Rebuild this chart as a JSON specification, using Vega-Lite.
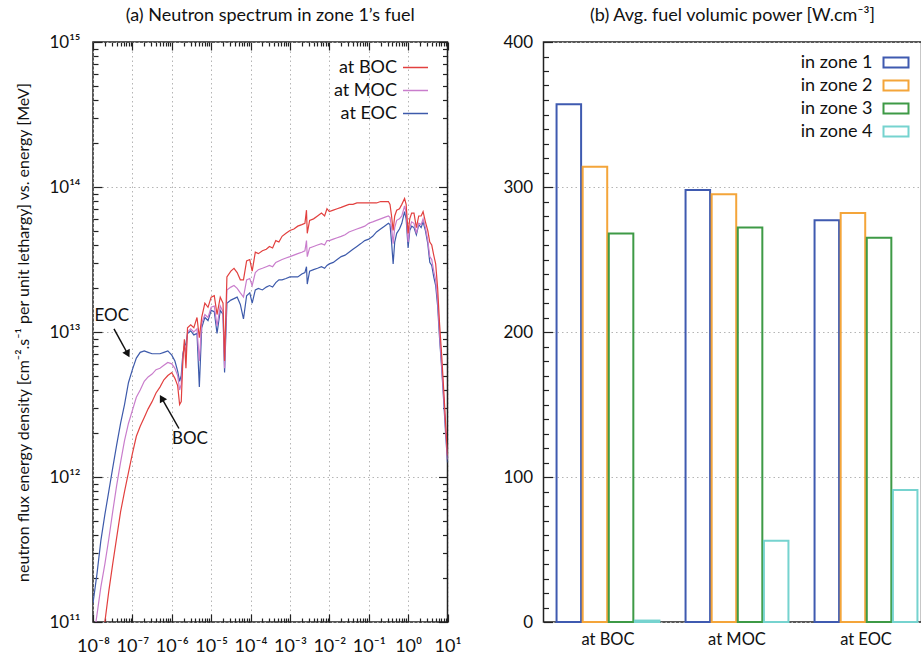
{
  "$schema": "https://vega.github.io/schema/vega-lite/v6.json",
  "padding": {"left": 15, "top": 6, "right": 0, "bottom": 0},
  "config": {
    "font": "Lato",
    "view": {"stroke": "#222222", "strokeWidth": 1.5},
    "axis": {"domain": false, "tickColor": "#222222", "tickWidth": 1.2, "labelColor": "#111111", "labelFontSize": 17, "labelFont": "Lato", "gridColor": "#b5b5b5", "gridDash": [1.5, 3], "gridWidth": 1, "titleFontWeight": "normal", "titleColor": "#111111"},
    "legend": {"labelFontSize": 18, "labelColor": "#111111", "labelFont": "Lato"},
    "title": {"fontSize": 18, "fontWeight": "normal", "color": "#111111", "font": "Lato"}
  },
  "resolve": {"scale": {"color": "independent"}, "legend": {"color": "independent"}},
  "hconcat": [
    {
      "width": 354.5,
      "height": 580,
      "title": {"text": "(a) Neutron spectrum in zone 1’s fuel", "offset": 8},
      "resolve": {"axis": {"x": "independent", "y": "independent"}},
      "layer": [
        {
          "data": {"values": [
            {"E":1e-8,"BOC":2.51e10,"MOC":7.24e10,"EOC":1.35e11},
            {"E":1.26e-8,"BOC":4.17e10,"MOC":1.12e11,"EOC":2.14e11},
            {"E":1.58e-8,"BOC":6.61e10,"MOC":1.74e11,"EOC":3.63e11},
            {"E":2.0e-8,"BOC":1.0e11,"MOC":2.51e11,"EOC":5.5e11},
            {"E":2.51e-8,"BOC":1.62e11,"MOC":3.72e11,"EOC":7.94e11},
            {"E":3.16e-8,"BOC":2.51e11,"MOC":5.75e11,"EOC":1.15e12},
            {"E":3.98e-8,"BOC":3.8e11,"MOC":8.71e11,"EOC":1.66e12},
            {"E":5.01e-8,"BOC":5.75e11,"MOC":1.26e12,"EOC":2.34e12},
            {"E":6.31e-8,"BOC":7.94e11,"MOC":1.78e12,"EOC":3.16e12},
            {"E":7.94e-8,"BOC":1.07e12,"MOC":2.34e12,"EOC":4.47e12},
            {"E":1.0e-7,"BOC":1.45e12,"MOC":2.88e12,"EOC":5.5e12},
            {"E":1.26e-7,"BOC":1.91e12,"MOC":3.55e12,"EOC":6.61e12},
            {"E":1.58e-7,"BOC":2.24e12,"MOC":3.98e12,"EOC":7.24e12},
            {"E":2.0e-7,"BOC":2.57e12,"MOC":4.57e12,"EOC":7.41e12},
            {"E":2.51e-7,"BOC":2.95e12,"MOC":4.9e12,"EOC":7.24e12},
            {"E":3.16e-7,"BOC":3.31e12,"MOC":5.13e12,"EOC":7.08e12},
            {"E":3.98e-7,"BOC":3.8e12,"MOC":5.5e12,"EOC":7.08e12},
            {"E":5.01e-7,"BOC":4.17e12,"MOC":5.62e12,"EOC":7.08e12},
            {"E":6.31e-7,"BOC":4.68e12,"MOC":5.89e12,"EOC":7.24e12},
            {"E":7.94e-7,"BOC":5.01e12,"MOC":6.17e12,"EOC":7.41e12},
            {"E":1.0e-6,"BOC":5.25e12,"MOC":6.03e12,"EOC":6.92e12},
            {"E":1.2e-6,"BOC":4.79e12,"MOC":5.62e12,"EOC":6.31e12},
            {"E":1.41e-6,"BOC":4.27e12,"MOC":5.01e12,"EOC":5.37e12},
            {"E":1.58e-6,"BOC":3.16e12,"MOC":3.98e12,"EOC":4.57e12},
            {"E":1.74e-6,"BOC":3.31e12,"MOC":4.37e12,"EOC":5.01e12},
            {"E":1.91e-6,"BOC":6.31e12,"MOC":6.61e12,"EOC":7.08e12},
            {"E":2.09e-6,"BOC":8.91e12,"MOC":8.32e12,"EOC":7.94e12},
            {"E":2.29e-6,"BOC":5.62e12,"MOC":7.08e12,"EOC":8.32e12},
            {"E":2.51e-6,"BOC":1.07e13,"MOC":1.0e13,"EOC":9.77e12},
            {"E":3.02e-6,"BOC":1.12e13,"MOC":1.05e13,"EOC":1.02e13},
            {"E":3.63e-6,"BOC":1.07e13,"MOC":1.0e13,"EOC":9.55e12},
            {"E":4.37e-6,"BOC":1.26e13,"MOC":1.05e13,"EOC":9.77e12},
            {"E":5.01e-6,"BOC":9.12e12,"MOC":6.31e12,"EOC":4.17e12},
            {"E":5.75e-6,"BOC":1.26e13,"MOC":1.15e13,"EOC":1.07e13},
            {"E":6.92e-6,"BOC":1.58e13,"MOC":1.32e13,"EOC":1.26e13},
            {"E":8.32e-6,"BOC":1.48e13,"MOC":1.26e13,"EOC":1.2e13},
            {"E":1.0e-5,"BOC":1.74e13,"MOC":1.48e13,"EOC":1.41e13},
            {"E":1.2e-5,"BOC":1.78e13,"MOC":1.51e13,"EOC":1.38e13},
            {"E":1.41e-5,"BOC":1.32e13,"MOC":1.1e13,"EOC":9.77e12},
            {"E":1.7e-5,"BOC":1.74e13,"MOC":1.51e13,"EOC":1.41e13},
            {"E":2.0e-5,"BOC":1.58e13,"MOC":1.38e13,"EOC":1.32e13},
            {"E":2.19e-5,"BOC":6.31e12,"MOC":5.62e12,"EOC":5.25e12},
            {"E":2.51e-5,"BOC":2.4e13,"MOC":1.95e13,"EOC":1.58e13},
            {"E":3.16e-5,"BOC":2.63e13,"MOC":2.04e13,"EOC":1.66e13},
            {"E":3.8e-5,"BOC":2.75e13,"MOC":2.09e13,"EOC":1.7e13},
            {"E":4.57e-5,"BOC":2.57e13,"MOC":2.0e13,"EOC":1.74e13},
            {"E":5.5e-5,"BOC":2.29e13,"MOC":1.86e13,"EOC":1.55e13},
            {"E":6.61e-5,"BOC":2.29e13,"MOC":1.74e13,"EOC":1.23e13},
            {"E":7.94e-5,"BOC":3.09e13,"MOC":2.29e13,"EOC":1.78e13},
            {"E":9.55e-5,"BOC":3.16e13,"MOC":2.34e13,"EOC":1.86e13},
            {"E":1.1e-4,"BOC":2.63e13,"MOC":2.09e13,"EOC":1.58e13},
            {"E":1.32e-4,"BOC":3.55e13,"MOC":2.57e13,"EOC":1.95e13},
            {"E":1.58e-4,"BOC":3.47e13,"MOC":2.69e13,"EOC":2.0e13},
            {"E":2.0e-4,"BOC":3.63e13,"MOC":2.75e13,"EOC":1.95e13},
            {"E":2.51e-4,"BOC":3.72e13,"MOC":2.82e13,"EOC":2.04e13},
            {"E":3.02e-4,"BOC":3.89e13,"MOC":2.88e13,"EOC":2.09e13},
            {"E":3.63e-4,"BOC":3.8e13,"MOC":2.82e13,"EOC":2.04e13},
            {"E":4.37e-4,"BOC":4.27e13,"MOC":3.02e13,"EOC":2.19e13},
            {"E":5.25e-4,"BOC":4.17e13,"MOC":3.09e13,"EOC":2.29e13},
            {"E":6.31e-4,"BOC":4.57e13,"MOC":3.16e13,"EOC":2.29e13},
            {"E":7.94e-4,"BOC":4.79e13,"MOC":3.24e13,"EOC":2.34e13},
            {"E":1.0e-3,"BOC":5.01e13,"MOC":3.31e13,"EOC":2.4e13},
            {"E":1.26e-3,"BOC":5.13e13,"MOC":3.39e13,"EOC":2.4e13},
            {"E":1.58e-3,"BOC":5.37e13,"MOC":3.47e13,"EOC":2.4e13},
            {"E":2.0e-3,"BOC":5.5e13,"MOC":3.55e13,"EOC":2.51e13},
            {"E":2.4e-3,"BOC":5.62e13,"MOC":3.63e13,"EOC":2.57e13},
            {"E":2.63e-3,"BOC":6.92e13,"MOC":4.27e13,"EOC":2.82e13},
            {"E":2.75e-3,"BOC":4.79e13,"MOC":3.31e13,"EOC":2.14e13},
            {"E":3.16e-3,"BOC":5.89e13,"MOC":3.8e13,"EOC":2.63e13},
            {"E":3.98e-3,"BOC":6.03e13,"MOC":3.89e13,"EOC":2.69e13},
            {"E":5.01e-3,"BOC":6.31e13,"MOC":3.98e13,"EOC":2.75e13},
            {"E":6.31e-3,"BOC":6.61e13,"MOC":4.07e13,"EOC":2.82e13},
            {"E":7.59e-3,"BOC":6.31e13,"MOC":3.98e13,"EOC":2.75e13},
            {"E":8.71e-3,"BOC":7.08e13,"MOC":4.27e13,"EOC":2.88e13},
            {"E":1.0e-2,"BOC":6.76e13,"MOC":4.27e13,"EOC":2.95e13},
            {"E":1.26e-2,"BOC":6.92e13,"MOC":4.37e13,"EOC":3.02e13},
            {"E":1.58e-2,"BOC":7.08e13,"MOC":4.47e13,"EOC":3.16e13},
            {"E":2.0e-2,"BOC":7.24e13,"MOC":4.57e13,"EOC":3.31e13},
            {"E":2.51e-2,"BOC":7.41e13,"MOC":4.68e13,"EOC":3.39e13},
            {"E":3.16e-2,"BOC":7.59e13,"MOC":4.9e13,"EOC":3.55e13},
            {"E":3.98e-2,"BOC":7.59e13,"MOC":5.01e13,"EOC":3.72e13},
            {"E":5.01e-2,"BOC":7.76e13,"MOC":5.13e13,"EOC":3.89e13},
            {"E":6.31e-2,"BOC":7.76e13,"MOC":5.25e13,"EOC":4.07e13},
            {"E":7.94e-2,"BOC":7.76e13,"MOC":5.37e13,"EOC":4.27e13},
            {"E":1.0e-1,"BOC":7.76e13,"MOC":5.62e13,"EOC":4.37e13},
            {"E":1.26e-1,"BOC":7.76e13,"MOC":5.75e13,"EOC":4.57e13},
            {"E":1.58e-1,"BOC":7.76e13,"MOC":5.89e13,"EOC":4.9e13},
            {"E":2.0e-1,"BOC":7.94e13,"MOC":6.03e13,"EOC":5.13e13},
            {"E":2.51e-1,"BOC":7.94e13,"MOC":6.17e13,"EOC":5.37e13},
            {"E":3.16e-1,"BOC":7.94e13,"MOC":6.31e13,"EOC":5.62e13},
            {"E":3.47e-1,"BOC":7.59e13,"MOC":6.17e13,"EOC":5.5e13},
            {"E":3.8e-1,"BOC":6.31e13,"MOC":5.25e13,"EOC":4.17e13},
            {"E":4.17e-1,"BOC":5.01e13,"MOC":4.07e13,"EOC":2.95e13},
            {"E":4.57e-1,"BOC":6.31e13,"MOC":5.25e13,"EOC":4.17e13},
            {"E":5.13e-1,"BOC":6.92e13,"MOC":5.89e13,"EOC":4.79e13},
            {"E":6.03e-1,"BOC":7.08e13,"MOC":6.03e13,"EOC":5.13e13},
            {"E":6.92e-1,"BOC":7.59e13,"MOC":6.31e13,"EOC":5.62e13},
            {"E":8.13e-1,"BOC":8.32e13,"MOC":7.41e13,"EOC":6.76e13},
            {"E":8.91e-1,"BOC":7.59e13,"MOC":6.61e13,"EOC":6.03e13},
            {"E":1.0,"BOC":4.79e13,"MOC":4.17e13,"EOC":3.8e13},
            {"E":1.1,"BOC":6.03e13,"MOC":5.25e13,"EOC":5.01e13},
            {"E":1.23,"BOC":6.61e13,"MOC":5.75e13,"EOC":5.37e13},
            {"E":1.41,"BOC":6.61e13,"MOC":5.62e13,"EOC":5.25e13},
            {"E":1.62,"BOC":5.25e13,"MOC":4.79e13,"EOC":4.68e13},
            {"E":1.86,"BOC":6.31e13,"MOC":5.62e13,"EOC":5.5e13},
            {"E":2.14,"BOC":6.31e13,"MOC":5.5e13,"EOC":5.25e13},
            {"E":2.4,"BOC":6.76e13,"MOC":6.03e13,"EOC":5.75e13},
            {"E":2.75,"BOC":5.75e13,"MOC":5.25e13,"EOC":5.01e13},
            {"E":3.16,"BOC":5.01e13,"MOC":4.27e13,"EOC":4.07e13},
            {"E":3.55,"BOC":4.17e13,"MOC":3.31e13,"EOC":3.02e13},
            {"E":3.98,"BOC":3.98e13,"MOC":3.16e13,"EOC":2.88e13},
            {"E":4.47,"BOC":3.39e13,"MOC":2.63e13,"EOC":2.4e13},
            {"E":5.01,"BOC":2.95e13,"MOC":2.29e13,"EOC":2.09e13},
            {"E":5.62,"BOC":2.0e13,"MOC":1.66e13,"EOC":1.51e13},
            {"E":6.31,"BOC":1.12e13,"MOC":9.55e12,"EOC":8.91e12},
            {"E":7.08,"BOC":7.08e12,"MOC":6.03e12,"EOC":5.75e12},
            {"E":7.94,"BOC":4.17e12,"MOC":3.72e12,"EOC":3.47e12},
            {"E":8.91,"BOC":2.4e12,"MOC":2.19e12,"EOC":2.04e12},
            {"E":10.0,"BOC":1.41e12,"MOC":1.32e12,"EOC":1.26e12}
          ]},
          "transform": [{"fold": ["EOC", "MOC", "BOC"], "as": ["series", "flux"]}],
          "mark": {"type": "line", "clip": true, "strokeWidth": 1.2},
          "encoding": {
            "x": {"field": "E", "type": "quantitative",
              "scale": {"type": "log", "domain": [1e-8, 10], "nice": false},
              "axis": {"orient": "bottom", "title": null,
                "values": [1e-8,2e-8,3e-8,4e-8,5e-8,6e-8,7e-8,8e-8,9e-8,1e-7,2e-7,3e-7,4e-7,5e-7,6e-7,7e-7,8e-7,9e-7,1e-6,2e-6,3e-6,4e-6,5e-6,6e-6,7e-6,8e-6,9e-6,1e-5,2e-5,3e-5,4e-5,5e-5,6e-5,7e-5,8e-5,9e-5,1e-4,2e-4,3e-4,4e-4,5e-4,6e-4,7e-4,8e-4,9e-4,1e-3,2e-3,3e-3,4e-3,5e-3,6e-3,7e-3,8e-3,9e-3,1e-2,2e-2,3e-2,4e-2,5e-2,6e-2,7e-2,8e-2,9e-2,0.1,0.2,0.3,0.4,0.5,0.6,0.7,0.8,0.9,1,2,3,4,5,6,7,8,9,10],
                "labelExpr": "abs(log(datum.value)/LN10 - round(log(datum.value)/LN10)) < 0.001 ? '10' + (round(log(datum.value)/LN10) < 0 ? '⁻' : '') + substring('⁰¹²³⁴⁵⁶⁷⁸⁹', abs(round(log(datum.value)/LN10)), abs(round(log(datum.value)/LN10)) + 1) : ''",
                "labelOverlap": false, "labelFlush": false, "labelPadding": 23, "labelFontSize": 18,
                "grid": true,
                "gridOpacity": {"condition": {"test": "abs(log(datum.value)/LN10 - round(log(datum.value)/LN10)) < 0.001", "value": 1}, "value": 0},
                "tickSize": {"condition": {"test": "abs(log(datum.value)/LN10 - round(log(datum.value)/LN10)) < 0.001", "value": -8}, "value": -4}
              }
            },
            "y": {"field": "flux", "type": "quantitative",
              "scale": {"type": "log", "domain": [1e11, 1e15], "nice": false},
              "axis": {"orient": "left",
                "title": "neutron flux energy density [cm⁻².s⁻¹ per unit lethargy] vs. energy [MeV]",
                "titleFontSize": 16, "titlePadding": 17,
                "values": [1e11,2e11,3e11,4e11,5e11,6e11,7e11,8e11,9e11,1e12,2e12,3e12,4e12,5e12,6e12,7e12,8e12,9e12,1e13,2e13,3e13,4e13,5e13,6e13,7e13,8e13,9e13,1e14,2e14,3e14,4e14,5e14,6e14,7e14,8e14,9e14,1e15],
                "labelExpr": "abs(log(datum.value)/LN10 - round(log(datum.value)/LN10)) < 0.001 ? '10¹' + substring('⁰¹²³⁴⁵⁶⁷⁸⁹', round(log(datum.value)/LN10) - 10, round(log(datum.value)/LN10) - 9) : ''",
                "labelOverlap": false, "labelFlush": false, "labelPadding": 22,
                "grid": true,
                "gridOpacity": {"condition": {"test": "abs(log(datum.value)/LN10 - round(log(datum.value)/LN10)) < 0.001", "value": 1}, "value": 0},
                "tickSize": {"condition": {"test": "abs(log(datum.value)/LN10 - round(log(datum.value)/LN10)) < 0.001", "value": -9}, "value": -5}
              }
            },
            "color": {"field": "series", "type": "nominal",
              "scale": {"domain": ["BOC", "MOC", "EOC"], "range": ["#e2403f", "#c97dcc", "#3d5aab"]},
              "legend": {"title": null, "orient": "none", "legendX": 309, "legendY": 12, "labelExpr": "'at ' + datum.label",
                "symbolType": "stroke", "symbolSize": 625, "symbolStrokeWidth": 1.5,
                "labelAlign": "right", "labelOffset": -32, "rowPadding": -4.5}
            }
          }
        },
        {
          "data": {"values": [
            {"E1":3.41e-8,"F1":1.05e13,"E2":7.64e-8,"F2":7.05e12},
            {"E1":1.52e-6,"F1":2.16e12,"E2":5.55e-7,"F2":3.5e12}
          ]},
          "mark": {"type": "rule", "color": "#111111", "strokeWidth": 1.5},
          "encoding": {
            "x": {"field": "E1", "type": "quantitative",
              "scale": {"type": "log", "domain": [1e-8, 10], "nice": false},
              "axis": {"orient": "top", "title": null, "labels": false, "grid": false,
                "values": [1e-8,2e-8,3e-8,4e-8,5e-8,6e-8,7e-8,8e-8,9e-8,1e-7,2e-7,3e-7,4e-7,5e-7,6e-7,7e-7,8e-7,9e-7,1e-6,2e-6,3e-6,4e-6,5e-6,6e-6,7e-6,8e-6,9e-6,1e-5,2e-5,3e-5,4e-5,5e-5,6e-5,7e-5,8e-5,9e-5,1e-4,2e-4,3e-4,4e-4,5e-4,6e-4,7e-4,8e-4,9e-4,1e-3,2e-3,3e-3,4e-3,5e-3,6e-3,7e-3,8e-3,9e-3,1e-2,2e-2,3e-2,4e-2,5e-2,6e-2,7e-2,8e-2,9e-2,0.1,0.2,0.3,0.4,0.5,0.6,0.7,0.8,0.9,1,2,3,4,5,6,7,8,9,10],
                "tickSize": {"condition": {"test": "abs(log(datum.value)/LN10 - round(log(datum.value)/LN10)) < 0.001", "value": -8}, "value": -4}
              }
            },
            "y": {"field": "F1", "type": "quantitative",
              "scale": {"type": "log", "domain": [1e11, 1e15], "nice": false},
              "axis": {"orient": "right", "title": null, "labels": false, "grid": false,
                "values": [1e11,2e11,3e11,4e11,5e11,6e11,7e11,8e11,9e11,1e12,2e12,3e12,4e12,5e12,6e12,7e12,8e12,9e12,1e13,2e13,3e13,4e13,5e13,6e13,7e13,8e13,9e13,1e14,2e14,3e14,4e14,5e14,6e14,7e14,8e14,9e14,1e15],
                "tickSize": {"condition": {"test": "abs(log(datum.value)/LN10 - round(log(datum.value)/LN10)) < 0.001", "value": -9}, "value": -5}
              }
            },
            "x2": {"field": "E2"},
            "y2": {"field": "F2"}
          }
        },
        {
          "data": {"values": [
            {"label": "EOC", "E": 2.99e-8, "F": 1.28e13},
            {"label": "BOC", "E": 2.9e-6, "F": 1.84e12}
          ]},
          "mark": {"type": "text", "fontSize": 17, "color": "#111111", "font": "Lato"},
          "encoding": {
            "x": {"field": "E", "type": "quantitative", "scale": {"type": "log"}, "axis": null},
            "y": {"field": "F", "type": "quantitative", "scale": {"type": "log"}, "axis": null},
            "text": {"field": "label"}
          }
        },
        {
          "data": {"values": [{"E": 7.64e-8, "F": 7.05e12}]},
          "mark": {"type": "point", "shape": "triangle-up", "filled": true, "size": 70, "angle": 152, "color": "#111111", "opacity": 1},
          "encoding": {
            "x": {"field": "E", "type": "quantitative", "scale": {"type": "log"}, "axis": null},
            "y": {"field": "F", "type": "quantitative", "scale": {"type": "log"}, "axis": null}
          }
        },
        {
          "data": {"values": [{"E": 5.55e-7, "F": 3.5e12}]},
          "mark": {"type": "point", "shape": "triangle-up", "filled": true, "size": 70, "angle": 330, "color": "#111111", "opacity": 1},
          "encoding": {
            "x": {"field": "E", "type": "quantitative", "scale": {"type": "log"}, "axis": null},
            "y": {"field": "F", "type": "quantitative", "scale": {"type": "log"}, "axis": null}
          }
        }
      ]
    },
    {
      "width": 378,
      "height": 580,
      "title": {"text": "(b) Avg. fuel volumic power [W.cm⁻³]", "offset": 8},
      "data": {"values": [
        {"state": "at BOC", "zone": "in zone 1", "power": 357},
        {"state": "at BOC", "zone": "in zone 2", "power": 314},
        {"state": "at BOC", "zone": "in zone 3", "power": 268},
        {"state": "at BOC", "zone": "in zone 4", "power": 1},
        {"state": "at MOC", "zone": "in zone 1", "power": 298},
        {"state": "at MOC", "zone": "in zone 2", "power": 295},
        {"state": "at MOC", "zone": "in zone 3", "power": 272},
        {"state": "at MOC", "zone": "in zone 4", "power": 56},
        {"state": "at EOC", "zone": "in zone 1", "power": 277},
        {"state": "at EOC", "zone": "in zone 2", "power": 282},
        {"state": "at EOC", "zone": "in zone 3", "power": 265},
        {"state": "at EOC", "zone": "in zone 4", "power": 91}
      ]},
      "mark": {"type": "bar", "filled": false, "strokeWidth": 2},
      "encoding": {
        "x": {"field": "state", "type": "nominal", "sort": ["at BOC", "at MOC", "at EOC"],
          "scale": {"range": [0, 387], "paddingInner": 0, "paddingOuter": 0},
          "axis": {"title": null, "labelAngle": 0, "ticks": false, "labelFontSize": 16.5, "labelPadding": 9}
        },
        "xOffset": {"field": "zone", "type": "nominal", "scale": {"paddingInner": 0.06, "paddingOuter": 0.5}},
        "y": {"field": "power", "type": "quantitative",
          "scale": {"domain": [0, 400], "nice": false},
          "axis": {"title": null,
            "values": [0,10,20,30,40,50,60,70,80,90,100,110,120,130,140,150,160,170,180,190,200,210,220,230,240,250,260,270,280,290,300,310,320,330,340,350,360,370,380,390,400],
            "labelExpr": "datum.value % 100 == 0 ? datum.label : ''",
            "labelOverlap": false, "labelFlush": false, "labelPadding": 20,
            "grid": true,
            "gridOpacity": {"condition": {"test": "datum.value % 100 == 0", "value": 1}, "value": 0},
            "tickSize": {"condition": {"test": "datum.value % 100 == 0", "value": -9}, "value": -5}
          }
        },
        "color": {"field": "zone", "type": "nominal",
          "scale": {"domain": ["in zone 1", "in zone 2", "in zone 3", "in zone 4"], "range": ["#3f5ab0", "#f4a53a", "#3e9a46", "#76d3cf"]},
          "legend": {"title": null, "orient": "none", "legendX": 339, "legendY": 7,
            "symbolType": "M-1,-0.4H1V0.4H-1Z", "symbolSize": 625, "symbolStrokeWidth": 2,
            "labelAlign": "right", "labelOffset": -37, "rowPadding": -4}
        }
      }
    }
  ],
  "spacing": 95.5,
  "bounds": "flush"
}
